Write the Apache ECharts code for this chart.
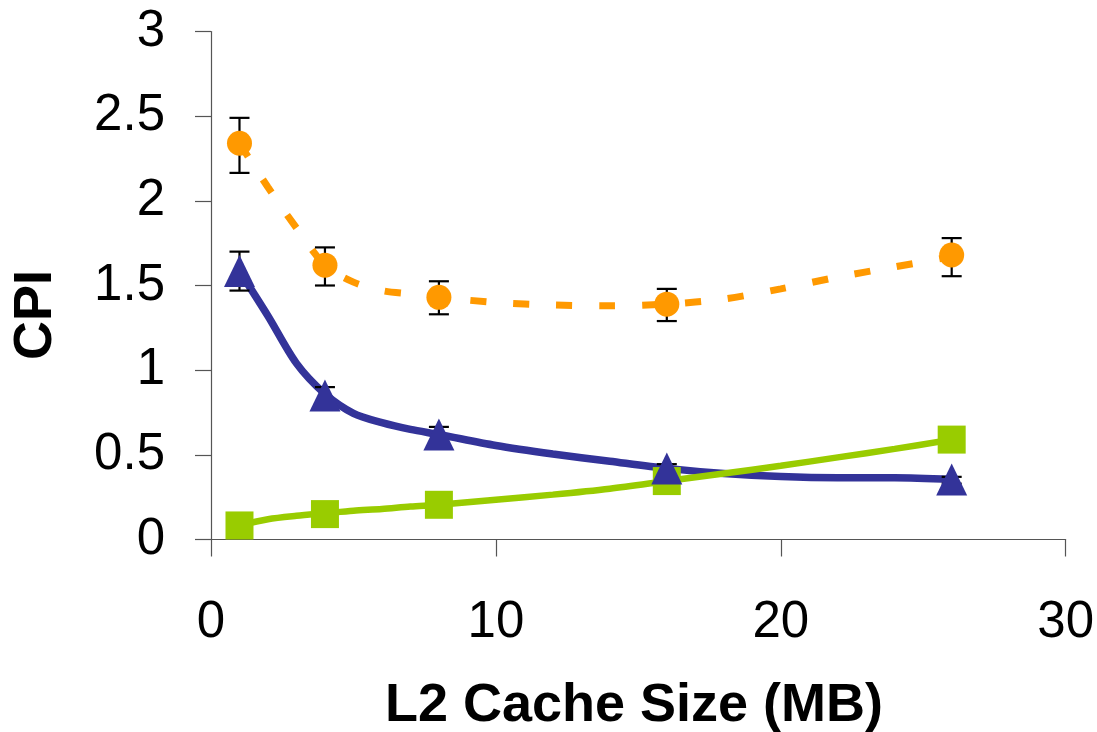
<!DOCTYPE html>
<html>
<head>
<meta charset="utf-8">
<script src="https://cdn.jsdelivr.net/npm/echarts@6/dist/echarts.min.js"></script>
<style>
  html, body { margin: 0; padding: 0; background: #fff; }
  #chart { width: 1097px; height: 732px; }
</style>
</head>
<body>
<div id="chart"></div>
<script>
// marker positions (cache sizes in MB)
var sizes = [1, 4, 8, 16, 26];
var orangeCpi  = [2.34, 1.62, 1.43, 1.39, 1.68];
var orangeLow  = [2.165, 1.50, 1.33, 1.29, 1.555];
var orangeHigh = [2.49, 1.725, 1.525, 1.48, 1.78];
var blueCpi    = [1.585, 0.85, 0.62, 0.42, 0.355];
var blueLow    = [1.47, 0.80, 0.58, 0.39, 0.33];
var blueHigh   = [1.70, 0.90, 0.665, 0.445, 0.37];
var greenCpi   = [0.083, 0.15, 0.205, 0.345, 0.59];

// points of the drawn curves
var curveX      = [1, 2, 3, 4, 5, 6, 7, 8, 10, 12, 14, 16, 18, 20, 22, 24, 26];
var orangeCurve = [2.34, 2.08, 1.84, 1.62, 1.52, 1.47, 1.45, 1.43, 1.40, 1.385, 1.38, 1.39, 1.42, 1.48, 1.55, 1.61, 1.67];
var blueCurve   = [1.585, 1.32, 1.04, 0.86, 0.745, 0.69, 0.65, 0.62, 0.555, 0.505, 0.462, 0.42, 0.39, 0.372, 0.365, 0.365, 0.355];
var greenCurve  = [0.083, 0.12, 0.14, 0.155, 0.17, 0.18, 0.195, 0.205, 0.235, 0.265, 0.30, 0.345, 0.39, 0.435, 0.485, 0.535, 0.59];

var xTicks = [0, 10, 20, 30];

var FONT = 'Arial, "Liberation Sans", sans-serif';

function pairs(xs, ys) {
  return xs.map(function (x, i) { return [x, ys[i]]; });
}
function bars(lo, hi) {
  return sizes.map(function (x, i) { return [x, lo[i], hi[i]]; });
}

function errorBar(params, api) {
  var x = api.value(0);
  var top = api.coord([x, api.value(2)]);
  var bot = api.coord([x, api.value(1)]);
  var half = 10;
  var st = { stroke: '#000', lineWidth: 2.2 };
  return {
    type: 'group',
    children: [
      { type: 'line', shape: { x1: top[0], y1: top[1], x2: bot[0], y2: bot[1] }, style: st },
      { type: 'line', shape: { x1: top[0] - half, y1: top[1], x2: top[0] + half, y2: top[1] }, style: st },
      { type: 'line', shape: { x1: bot[0] - half, y1: bot[1], x2: bot[0] + half, y2: bot[1] }, style: st }
    ]
  };
}

var chart = echarts.init(document.getElementById('chart'));
chart.setOption({
  animation: false,
  backgroundColor: '#fff',
  grid: { left: 211, right: 31, top: 31.5, bottom: 192.5 },
  xAxis: {
    type: 'value', min: 0, max: 30, interval: 10,
    splitLine: { show: false },
    axisLine: { lineStyle: { color: '#555', width: 1.2 } },
    axisTick: { length: 17, lineStyle: { color: '#555', width: 1.2 } },
    axisLabel: {
      margin: 58, color: '#000', fontSize: 51, fontFamily: FONT,
      formatter: function (v) { return xTicks.indexOf(v) >= 0 ? String(v) : ''; }
    }
  },
  yAxis: {
    type: 'value', min: 0, max: 3, interval: 0.5,
    splitLine: { show: false },
    axisLine: { show: true, lineStyle: { color: '#555', width: 1.2 } },
    axisTick: { show: true, length: 16, lineStyle: { color: '#555', width: 1.2 } },
    axisLabel: { margin: 46, color: '#000', fontSize: 51, fontFamily: FONT }
  },
  graphic: [
    {
      type: 'text', x: 36, y: 315, rotation: Math.PI / 2,
      style: { text: 'CPI', font: 'bold 54px ' + FONT, fill: '#000', textAlign: 'center', textVerticalAlign: 'middle' }
    },
    {
      type: 'text', x: 634, y: 706,
      style: { text: 'L2 Cache Size (MB)', font: 'bold 54px ' + FONT, fill: '#000', textAlign: 'center', textVerticalAlign: 'middle' }
    }
  ],
  series: [
    {
      type: 'line', data: pairs(curveX, orangeCurve), smooth: 0.3, showSymbol: false, z: 2,
      lineStyle: { color: '#FF9900', width: 7, type: [16, 27] }
    },
    {
      type: 'line', data: pairs(curveX, blueCurve), smooth: 0.3, showSymbol: false, z: 2,
      lineStyle: { color: '#333399', width: 7.5 }
    },
    {
      type: 'line', data: pairs(curveX, greenCurve), smooth: 0.3, showSymbol: false, z: 2,
      lineStyle: { color: '#99CC00', width: 6.5 }
    },
    { type: 'custom', data: bars(orangeLow, orangeHigh), renderItem: errorBar, encode: { x: 0, y: [1, 2] }, z: 3 },
    { type: 'custom', data: bars(blueLow, blueHigh), renderItem: errorBar, encode: { x: 0, y: [1, 2] }, z: 3 },
    {
      type: 'scatter', data: pairs(sizes, greenCpi), symbol: 'rect', symbolSize: 28, z: 4,
      itemStyle: { color: '#99CC00', opacity: 1 }
    },
    {
      type: 'scatter', data: pairs(sizes, orangeCpi), symbol: 'circle', symbolSize: 25, z: 4,
      itemStyle: { color: '#FF9900', opacity: 1 }
    },
    {
      type: 'scatter', data: pairs(sizes, blueCpi), symbol: 'triangle', symbolSize: [31, 32], z: 4,
      itemStyle: { color: '#333399', opacity: 1 }
    }
  ]
});
</script>
</body>
</html>
